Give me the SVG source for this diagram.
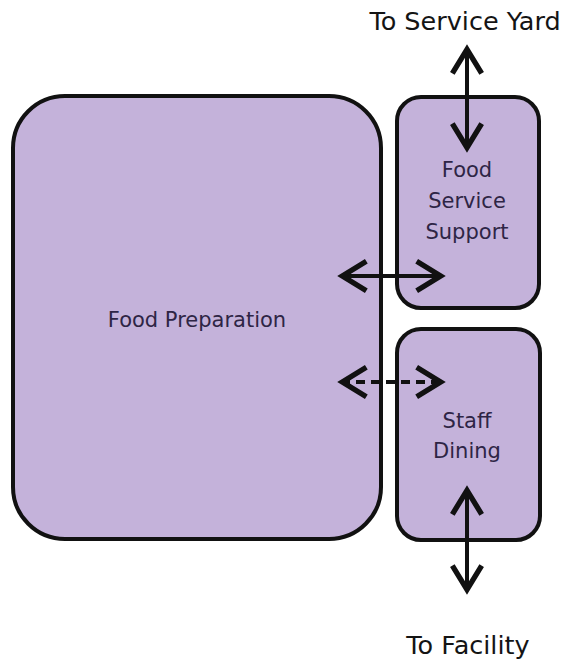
<svg xmlns="http://www.w3.org/2000/svg" width="569" height="659" viewBox="0 0 569 659">
<style>
.box{fill:#c4b2da;stroke:#111;stroke-width:4}
.lbl{font-family:"DejaVu Sans","Liberation Sans",sans-serif;font-size:21px;fill:#2e2545;text-anchor:middle}
.ext{font-family:"DejaVu Sans","Liberation Sans",sans-serif;font-size:25.5px;fill:#141414;text-anchor:middle}
.con{stroke:#111;stroke-width:4;fill:none}
.dash{stroke-dasharray:9 6}
</style>
<defs>
<marker id="chev" markerUnits="userSpaceOnUse" markerWidth="40" markerHeight="40" viewBox="-25 -15 30 30" refX="0" refY="0" orient="auto-start-reverse">
<path d="M-19,-11 L-1,0 L-19,11" fill="none" stroke="#111" stroke-width="4" stroke-linejoin="miter" stroke-dasharray="none"/>
</marker>
</defs>
<rect width="569" height="659" fill="#fff"/>
<g id="food-preparation">
<rect class="box" x="13" y="96" width="368" height="443" rx="52"/>
<text class="lbl" x="197" y="327" font-size="22">Food Preparation</text>
</g>
<g id="food-service-support">
<rect class="box" x="397" y="97" width="142" height="211" rx="24"/>
<text class="lbl" x="467" y="177">Food</text>
<text class="lbl" x="467" y="208">Service</text>
<text class="lbl" x="467" y="239">Support</text>
</g>
<g id="staff-dining">
<rect class="box" x="397" y="329" width="143" height="211" rx="24"/>
<text class="lbl" x="467" y="428">Staff</text>
<text class="lbl" x="467" y="458">Dining</text>
</g>
<g id="to-service-yard">
<text class="ext" x="465" y="30">To Service Yard</text>
</g>
<g id="to-facility">
<text class="ext" x="468" y="654" font-size="26px">To Facility</text>
</g>
<g id="connectors">
<line class="con" x1="467" y1="48" x2="467" y2="149" marker-start="url(#chev)" marker-end="url(#chev)"/>
<line class="con" x1="341" y1="276" x2="442" y2="276" marker-start="url(#chev)" marker-end="url(#chev)"/>
<line class="con dash" x1="341" y1="382" x2="442" y2="382" marker-start="url(#chev)" marker-end="url(#chev)"/>
<line class="con" x1="467" y1="489" x2="467" y2="591" marker-start="url(#chev)" marker-end="url(#chev)"/>
</g>
</svg>
